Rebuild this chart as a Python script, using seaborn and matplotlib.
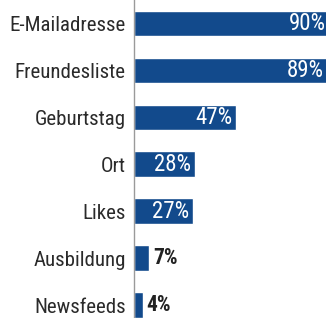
import pandas as pd
import seaborn as sns
import matplotlib.pyplot as plt

# daten aus der grafik
kategorien = ['E-Mailadresse', 'Freundesliste', 'Geburtstag', 'Ort', 'Likes', 'Ausbildung', 'Newsfeeds']
prozent = [90, 89, 47, 28, 27, 7, 4]

df = pd.DataFrame({'kategorie': kategorien, 'prozent': prozent})

sns.set_style('white')
plt.rcParams['font.family'] = ['Roboto Condensed', 'DejaVu Sans']

blau = '#124a8c'

fig = plt.figure(figsize=(3.26, 3.18), dpi=100)
ax = fig.add_axes([134 / 326, 0, 1 - 134 / 326, 1])

sns.barplot(data=df, y='kategorie', x='prozent', color=blau, saturation=1,
            width=0.55, orient='h', ax=ax)

xmax = 88.1
ax.set_xlim(0, xmax)
ax.set_ylim(6.27, -0.5)

# beschriftung der balken
for i, v in enumerate(prozent):
    if v > 20:
        ax.text(v - 1.8, i, '%d%%' % v, ha='right', va='center', color='white',
                fontsize=16.5, fontweight='normal', clip_on=False)
    else:
        ax.text(v + 1.8, i, '%d%%' % v, ha='left', va='center', color='#222222',
                fontsize=15.5, fontweight='bold')

ax.set_xlabel('')
ax.set_ylabel('')
ax.set_xticks([])
ax.tick_params(axis='y', length=0, pad=6, labelsize=15, labelcolor='#2a2a2a')
for s in ['top', 'right', 'bottom']:
    ax.spines[s].set_visible(False)
ax.spines['left'].set_color('#9a9a9a')
ax.spines['left'].set_linewidth(1)

plt.savefig('out.png', dpi=100)
